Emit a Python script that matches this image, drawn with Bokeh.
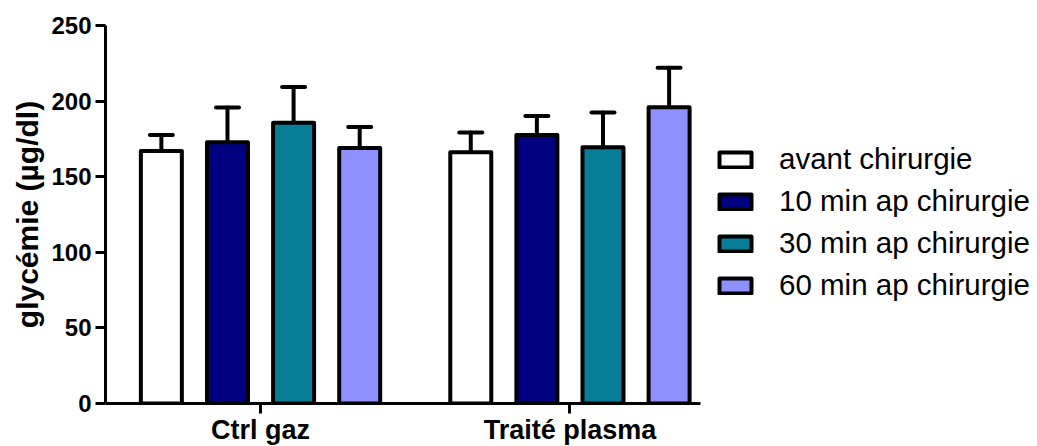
from bokeh.plotting import figure
from bokeh.models import (ColumnDataSource, Range1d, FixedTicker, Whisker, TeeHead,
                          Legend, LegendItem)
from bokeh.embed import file_html
from bokeh.resources import INLINE

# ---- data ----
groups = ["Ctrl gaz", "Traité plasma"]
series = ["avant chirurgie", "10 min ap chirurgie", "30 min ap chirurgie", "60 min ap chirurgie"]
means = {
    "avant chirurgie":      [167.0, 166.2],
    "10 min ap chirurgie":  [172.8, 177.6],
    "30 min ap chirurgie":  [185.6, 169.5],
    "60 min ap chirurgie":  [168.9, 196.0],
}
sem = {
    "avant chirurgie":      [10.5, 13.0],
    "10 min ap chirurgie":  [23.0, 12.6],
    "30 min ap chirurgie":  [23.8, 22.9],
    "60 min ap chirurgie":  [14.0, 26.0],
}
colors = ["#ffffff", "#000080", "#087d96", "#8f8fff"]
y_ticks = [0, 50, 100, 150, 200, 250]

# ---- layout constants ----
GROUP_START = 2.345
GROUP_STEP = 4.68
BAR_W = 0.62
FONT = "Liberation Sans"

group_centers = [GROUP_START + i * GROUP_STEP for i in range(len(groups))]

p = figure(frame_width=595, frame_height=378, output_backend="svg", toolbar_location=None,
           x_range=Range1d(0, 9.0), y_range=Range1d(0, 250),
           min_border_left=105, min_border_top=25, min_border_bottom=43, min_border_right=0)
p.outline_line_color = None
p.xgrid.visible = False
p.ygrid.visible = False

items = []
for si, s in enumerate(series):
    xs = [c + (si - 1.5) for c in group_centers]
    vals = means[s]
    ups = [v + e for v, e in zip(vals, sem[s])]
    src = ColumnDataSource(dict(x=xs, top=vals, upper=ups))
    r = p.vbar(x="x", top="top", width=BAR_W, source=src, fill_color=colors[si],
               line_color="black", line_width=4, line_join="round")
    w = Whisker(base="x", lower="top", upper="upper", source=src, dimension="height",
                line_width=4, line_color="black", line_cap="round",
                upper_head=TeeHead(size=23, line_width=4, line_color="black", line_cap="round"),
                lower_head=None)
    p.add_layout(w)
    items.append(LegendItem(label=s, renderers=[r]))

# axes
p.xaxis.ticker = FixedTicker(ticks=group_centers)
p.xaxis.major_label_overrides = {c: g for c, g in zip(group_centers, groups)}
p.yaxis.ticker = FixedTicker(ticks=y_ticks)
for ax in (p.xaxis[0], p.yaxis[0]):
    ax.axis_line_width = 3
    ax.axis_line_color = "black"
    ax.major_tick_line_width = 3
    ax.major_tick_line_color = "black"
    ax.major_tick_in = 0
    ax.major_tick_out = 10
    ax.minor_tick_line_color = None
    ax.major_label_text_font = FONT
    ax.major_label_text_font_style = "bold"
    ax.major_label_text_color = "black"
p.xaxis.major_label_text_font_size = "27px"
p.xaxis.major_label_standoff = 1
p.yaxis.major_label_text_font_size = "24px"
p.yaxis.major_label_standoff = 4
p.yaxis.axis_label = "glycémie (µg/dl)"
p.yaxis.axis_label_text_font = FONT
p.yaxis.axis_label_text_font_style = "bold"
p.yaxis.axis_label_text_font_size = "30px"
p.yaxis.axis_label_standoff = 4
p.yaxis.axis_label_text_color = "black"

legend = Legend(items=items, location=(15, 101))
legend.border_line_color = None
legend.background_fill_alpha = 0
legend.margin = 0
legend.padding = 0
legend.glyph_width = 40
legend.glyph_height = 19
legend.label_standoff = 24
legend.spacing = 8
legend.label_text_font = FONT
legend.label_text_font_size = "29.5px"
legend.label_text_color = "black"
p.add_layout(legend, "right")

open("out.html", "w").write(file_html(p, INLINE))
